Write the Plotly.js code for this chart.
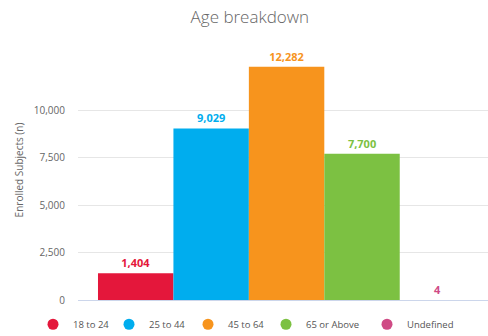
<!DOCTYPE html>
<html><head><meta charset="utf-8">
<script src="https://cdn.plot.ly/plotly-3.0.1.min.js"></script>
<style>html,body{margin:0;padding:0;background:#fff}#chart{width:488px;height:336px}</style>
</head><body><div id="chart"></div>
<script>
const categories = ["18 to 24", "25 to 44", "45 to 64", "65 or Above", "Undefined"];
const enrolled = [1404, 9029, 12282, 7700, 4];
const colors = ["#e4173b", "#00adee", "#f7941d", "#7cc142", "#cf4b85"];
const yTickVals = [0, 2500, 5000, 7500, 10000];
const yTickText = ["0", "2,500", "5,000", "7,500", "10,000"];
// left edge (px) of each legend entry along the bottom
const legendLeftPx = [33, 109, 188, 266, 367];

const legendIds = ["legend", "legend2", "legend3", "legend4", "legend5"];
const traces = [];
categories.forEach((c, i) => {
  traces.push({
    type: "bar", x: [c], y: [enrolled[i]], name: c, showlegend: false,
    marker: {color: colors[i], line: {width: 0}}, width: 1,
    text: [enrolled[i].toLocaleString("en-US")], textposition: "outside",
    textfont: {family: "Open Sans", size: 11, color: colors[i], weight: 700},
    cliponaxis: false, hoverinfo: "skip"
  });
});
categories.forEach((c, i) => {
  traces.push({
    type: "scatter", mode: "markers", x: [c], y: [null], name: c, legend: legendIds[i],
    marker: {color: colors[i], size: 11, symbol: "circle"}, hoverinfo: "skip"
  });
});

const plotTop = 40, plotBottom = 300;
const yMax = 10000 * (plotBottom - plotTop) / 190;

const layout = {
  width: 488, height: 336,
  margin: {l: 78, r: 0, t: plotTop, b: 336 - plotBottom},
  paper_bgcolor: "#fff", plot_bgcolor: "#fff",
  barmode: "overlay",
  font: {family: "Open Sans", color: "#666"},
  title: {text: "Age breakdown", x: 0.512, xref: "container", y: 0.95, yref: "container", yanchor: "middle",
    font: {family: "Open Sans", size: 17, color: "#666", weight: 300}},
  xaxis: {type: "category", categoryorder: "array", categoryarray: categories,
    range: [-0.765, 4.67], showticklabels: false, ticks: "", showgrid: false, zeroline: false,
    showline: true, linecolor: "#ccd6eb", linewidth: 1, fixedrange: true},
  yaxis: {range: [0, yMax], tickvals: yTickVals, ticktext: yTickText, showgrid: true, gridcolor: "#e6e6e6",
    zeroline: false, showline: false, ticks: "", ticklabelstandoff: 12,
    tickfont: {family: "Open Sans", size: 10, color: "#666"},
    title: {text: "Enrolled Subjects (n)", font: {family: "Open Sans", size: 10, color: "#666"}, standoff: 8},
    automargin: false, fixedrange: true},
  showlegend: true
};
legendIds.forEach((id, i) => {
  layout[id] = {orientation: "h", xref: "container", x: legendLeftPx[i] / 488, xanchor: "left",
    yref: "container", y: 0.035, yanchor: "middle", bgcolor: "rgba(0,0,0,0)",
    font: {family: "Open Sans", size: 9.5, color: "#555"}, itemwidth: 30};
});

Plotly.newPlot("chart", traces, layout, {displayModeBar: false, staticPlot: true});
</script></body></html>
